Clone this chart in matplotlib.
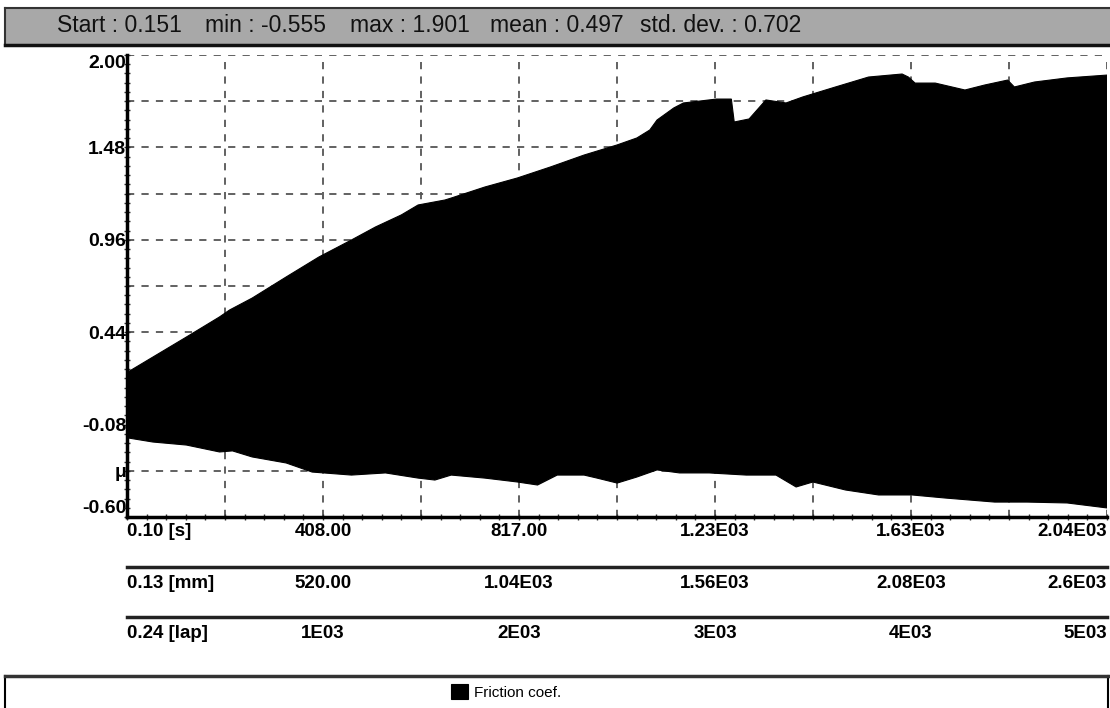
import numpy as np
import matplotlib
matplotlib.use("Agg")
import matplotlib.pyplot as plt
from matplotlib.ticker import FixedLocator

plt.rcParams['font.family'] = ['Liberation Sans Narrow', 'Liberation Sans', 'DejaVu Sans']

# --- Статистика в шапке ---
stat_names = ["Start", "min", "max", "mean", "std. dev."]
stat_values = [0.151, -0.555, 1.901, 0.497, 0.702]

# --- Огибающая сигнала коэффициента трения (время, с) ---
upper_time = [0.1, 2, 54, 124, 193, 214, 261, 332, 400, 468, 518, 572, 607, 663, 676, 746, 814,
              883, 953, 1022, 1063, 1090, 1105, 1140, 1160, 1229, 1260, 1266, 1297, 1332, 1374,
              1409, 1477, 1546, 1616, 1629, 1643, 1685, 1747, 1788, 1836, 1850, 1892, 1960, 2043.1]
upper_mu = [0.20, 0.216, 0.30, 0.413, 0.526, 0.565, 0.632, 0.751, 0.863, 0.959, 1.032, 1.100, 1.156,
            1.184, 1.195, 1.257, 1.308, 1.370, 1.437, 1.494, 1.533, 1.578, 1.634, 1.702, 1.730,
            1.752, 1.752, 1.623, 1.640, 1.747, 1.730, 1.764, 1.820, 1.876, 1.893, 1.876, 1.842,
            1.842, 1.803, 1.831, 1.859, 1.820, 1.848, 1.871, 1.887]
lower_time = [0.1, 2, 54, 124, 193, 220, 261, 332, 386, 468, 539, 607, 642, 676, 746, 814, 856, 897,
              953, 980, 1022, 1063, 1105, 1152, 1214, 1291, 1353, 1395, 1430, 1498, 1567, 1637,
              1705, 1809, 1877, 1960, 2043.1]
lower_mu = [-0.15, -0.155, -0.178, -0.195, -0.234, -0.228, -0.262, -0.296, -0.347, -0.364, -0.352,
            -0.381, -0.392, -0.364, -0.381, -0.403, -0.420, -0.364, -0.364, -0.381, -0.409, -0.375,
            -0.335, -0.352, -0.352, -0.364, -0.364, -0.431, -0.403, -0.448, -0.476, -0.476, -0.493,
            -0.516, -0.516, -0.521, -0.549]

# --- Оси ---
time_start, time_end = 0.1, 2043.1
time_labels = ["0.10 [s]", "", "408.00", "", "817.00", "", "1.23E03", "", "1.63E03", "", "2.04E03"]
dist_labels = ["0.13 [mm]", "", "520.00", "", "1.04E03", "", "1.56E03", "", "2.08E03", "", "2.6E03"]
lap_labels = ["0.24 [lap]", "", "1E03", "", "2E03", "", "3E03", "", "4E03", "", "5E03"]
mu_min, mu_max = -0.60, 2.00
mu_labels = ["-0.60", "μ", "-0.08", "", "0.44", "", "0.96", "", "1.48", "", "2.00"]

W, H = 1110, 708
fig = plt.figure(figsize=(W / 100, H / 100), dpi=100)

# шапка
header = fig.add_axes([5 / W, 1 - 45 / H, 1110 / W, 37 / H], facecolor='#a8a8a8')
header.set_xticks([])
header.set_yticks([])
for side in header.spines.values():
    side.set_linewidth(1.5)
    side.set_color('#333333')
header.spines['bottom'].set_linewidth(2.5)
header.spines['bottom'].set_color('#111111')
header_x = [57, 205, 350, 490, 640]
for name, value, xpix in zip(stat_names, stat_values, header_x):
    fig.text(xpix / W, 1 - 26 / H, f"{name} : {value:.3f}", fontsize=16.5,
             ha='left', va='center', color='#111111')

# основной график
ax = fig.add_axes([127 / W, 1 - 517 / H, (1107 - 127) / W, 462 / H])
ax.fill(np.concatenate([upper_time, lower_time[::-1]]),
        np.concatenate([upper_mu, lower_mu[::-1]]),
        color='black', lw=0.8, label='Friction coef.', zorder=3)
ax.set_xlim(time_start, time_end)
ax.set_ylim(mu_min, mu_max)

time_ticks = np.linspace(time_start, time_end, len(time_labels))
mu_ticks = np.linspace(mu_min, mu_max, len(mu_labels))
ax.set_xticks(time_ticks, time_labels)
ax.set_yticks(mu_ticks, mu_labels)
ax.xaxis.set_minor_locator(FixedLocator(np.linspace(time_start, time_end, 51)))
ax.yaxis.set_minor_locator(FixedLocator(np.linspace(mu_min, mu_max, 51)))
ax.grid(True, which='major', linestyle=(0, (4, 4)), color='#555555', lw=1.3, zorder=1)

for name in ['top', 'right']:
    ax.spines[name].set_visible(False)
for name in ['left', 'bottom']:
    ax.spines[name].set_linewidth(2.5)
ax.tick_params(which='both', direction='inout', length=5, width=1, color='#333333')
ax.tick_params(axis='x', pad=2, labelsize=13.5)
ax.tick_params(axis='y', pad=-2, labelsize=14)
for lbl in ax.get_xticklabels() + ax.get_yticklabels():
    lbl.set_fontweight('bold')
xl = ax.get_xticklabels()
xl[0].set_ha('left')
xl[-1].set_ha('right')
yl = ax.get_yticklabels()
yl[0].set_va('bottom')
yl[-1].set_va('top')

# дополнительные шкалы: путь и круги
for loc, labels in [(-50 / 462, dist_labels), (-100 / 462, lap_labels)]:
    sec = ax.secondary_xaxis(loc)
    sec.set_xticks(time_ticks, labels)
    sec.tick_params(length=0, pad=6, labelsize=13.5)
    sec.spines['bottom'].set_linewidth(2.5)
    sec.spines['bottom'].set_color('#222222')
    sl = sec.get_xticklabels()
    for lbl in sl:
        lbl.set_fontweight('bold')
    sl[0].set_ha('left')
    sl[-1].set_ha('right')

# рамка легенды
legend_box = fig.add_axes([5 / W, -0.01, 1103 / W, 32 / H + 0.01])
legend_box.set_xticks([])
legend_box.set_yticks([])
for side in legend_box.spines.values():
    side.set_linewidth(1.5)
legend_box.spines['top'].set_linewidth(2.5)
legend_box.spines['top'].set_color('#333333')

handles, labels = ax.get_legend_handles_labels()
fig.legend(handles, labels, loc='center', bbox_to_anchor=(506 / W, 1 - 692 / H),
           frameon=False, fontsize=11, handlelength=1.1, handleheight=1.1,
           handletextpad=0.4, borderpad=0)

fig.savefig("out.png", dpi=100)
